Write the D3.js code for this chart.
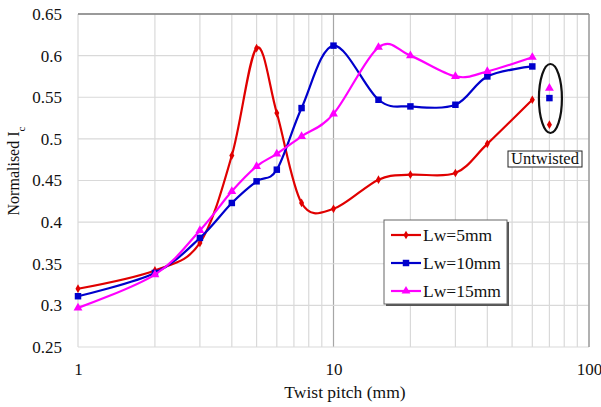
<!DOCTYPE html>
<html>
<head>
<meta charset="utf-8">
<script src="https://cdn.jsdelivr.net/npm/d3@7"></script>
<style>
  body { margin: 0; background: #fff; }
  svg { display: block; }
</style>
</head>
<body>
<svg id="chart" width="601" height="407"></svg>
<script>
// ---- data ----
const pitches = [1, 2, 3, 4, 5, 6, 7.5, 10, 15, 20, 30, 40, 60];
const lw5  = [0.320, 0.342, 0.375, 0.480, 0.609, 0.531, 0.423, 0.416, 0.451, 0.457, 0.459, 0.494, 0.547];
const lw10 = [0.311, 0.339, 0.381, 0.423, 0.449, 0.463, 0.537, 0.612, 0.547, 0.539, 0.541, 0.575, 0.587];
const lw15 = [0.297, 0.337, 0.390, 0.437, 0.467, 0.482, 0.503, 0.530, 0.610, 0.600, 0.575, 0.581, 0.598];
const untwistedX = 70;
const untwisted = [0.517, 0.549, 0.561]; // Lw=5, 10, 15
const seriesNames = ["Lw=5mm", "Lw=10mm", "Lw=15mm"];
const seriesColors = ["#e00000", "#0000cc", "#ff00ff"];
const yTicks = [0.25, 0.3, 0.35, 0.4, 0.45, 0.5, 0.55, 0.6, 0.65];
const yTickLabels = ["0.25", "0.3", "0.35", "0.4", "0.45", "0.5", "0.55", "0.6", "0.65"];
const xTicks = [1, 10, 100];

// ---- layout ----
const FONT = '"Liberation Serif", "Times New Roman", Times, serif';
const svg = d3.select("#chart").style("font-family", FONT);
const L = 78, R = 589, T = 14, B = 347;
const x = d3.scaleLog().domain([1, 100]).range([L, R]);
const y = d3.scaleLinear().domain([0.25, 0.65]).range([B, T]);

// gridlines
const minorX = [];
for (let d = 1; d < 100; d *= 10) for (let k = 1; k <= 9; k++) minorX.push(d * k);
minorX.push(100);
svg.append("g").selectAll("line").data(minorX).join("line")
  .attr("x1", d => x(d)).attr("x2", d => x(d)).attr("y1", T).attr("y2", B)
  .attr("stroke", d => (d === 10 ? "#a6a6a6" : "#d9d9d9")).attr("stroke-width", 1.2);
svg.append("g").selectAll("line").data(yTicks).join("line")
  .attr("x1", L).attr("x2", R).attr("y1", d => y(d)).attr("y2", d => y(d))
  .attr("stroke", "#d9d9d9").attr("stroke-width", 1.2);
// top and right frame
svg.append("line").attr("x1", L).attr("x2", R).attr("y1", T).attr("y2", T).attr("stroke", "#7f7f7f").attr("stroke-width", 1.5);
svg.append("line").attr("x1", R).attr("x2", R).attr("y1", T).attr("y2", B).attr("stroke", "#8c8c8c").attr("stroke-width", 1.2);

// axes labels
const yAxis = d3.axisLeft(y).tickValues(yTicks).tickFormat((d, i) => yTickLabels[i]).tickSize(0).tickPadding(16);
const gy = svg.append("g").attr("transform", `translate(${L},0)`).call(yAxis);
gy.select(".domain").remove();
gy.selectAll("text").style("font-family", FONT).style("font-size", "17px").attr("fill", "#111");

const xAxis = d3.axisBottom(x).tickValues(xTicks).tickFormat(d3.format("d")).tickSize(0).tickPadding(16);
const gx = svg.append("g").attr("transform", `translate(0,${B})`).call(xAxis);
gx.select(".domain").remove();
gx.selectAll("text").style("font-family", FONT).style("font-size", "17px").attr("fill", "#111");

svg.append("text").attr("x", 345).attr("y", 398).attr("text-anchor", "middle")
  .style("font-family", FONT).style("font-size", "17.5px").attr("fill", "#111").text("Twist pitch (mm)");
const yt = svg.append("text").attr("transform", `translate(19,171) rotate(-90)`)
  .attr("text-anchor", "middle").style("font-family", FONT).style("font-size", "16px").attr("fill", "#111");
yt.append("tspan").text("Normalised I");
yt.append("tspan").attr("baseline-shift", "sub").style("font-size", "11px").text("c");

// series
const allSeries = [lw5, lw10, lw15];
const line = d3.line().x(d => x(d[0])).y(d => y(d[1])).curve(d3.curveCatmullRom.alpha(0));
const symbols = [d3.symbolDiamond, d3.symbolSquare, d3.symbolTriangle];
const symSizes = [22, 42, 34];

allSeries.forEach((vals, i) => {
  const pts = pitches.map((p, j) => [p, vals[j]]);
  svg.append("path").datum(pts).attr("d", line).attr("fill", "none")
    .attr("stroke", seriesColors[i]).attr("stroke-width", 2.2);
  svg.append("g").selectAll("path").data(pts).join("path")
    .attr("transform", d => `translate(${x(d[0])},${y(d[1])})`)
    .attr("d", d3.symbol().type(symbols[i]).size(symSizes[i]))
    .attr("fill", seriesColors[i]);
});

// untwisted points
untwisted.forEach((v, i) => {
  svg.append("path").attr("transform", `translate(${x(untwistedX)},${y(v)})`)
    .attr("d", d3.symbol().type(symbols[i]).size(symSizes[i])).attr("fill", seriesColors[i]);
});
// ellipse around untwisted
svg.append("ellipse").attr("cx", x(untwistedX) + 1).attr("cy", y(0.5485))
  .attr("rx", 11.5).attr("ry", 34.5).attr("fill", "none").attr("stroke", "#111").attr("stroke-width", 2.2);
// Untwisted label
svg.append("rect").attr("x", 508).attr("y", 151).attr("width", 74).attr("height", 16)
  .attr("fill", "#fff").attr("stroke", "#222").attr("stroke-width", 1);
svg.append("text").attr("x", 545).attr("y", 164).attr("text-anchor", "middle")
  .style("font-family", FONT).style("font-size", "16.5px").attr("fill", "#111").text("Untwisted");

// legend
const lg = svg.append("g");
lg.append("rect").attr("x", 386).attr("y", 222).attr("width", 123).attr("height", 84).attr("fill", "#555");
lg.append("rect").attr("x", 384).attr("y", 220).attr("width", 123).attr("height", 84)
  .attr("fill", "#fff").attr("stroke", "#666").attr("stroke-width", 1);
seriesNames.forEach((name, i) => {
  const cy = 235 + i * 28;
  lg.append("line").attr("x1", 391).attr("x2", 421).attr("y1", cy).attr("y2", cy)
    .attr("stroke", seriesColors[i]).attr("stroke-width", 2.2);
  lg.append("path").attr("transform", `translate(406,${cy})`)
    .attr("d", d3.symbol().type(symbols[i]).size(symSizes[i])).attr("fill", seriesColors[i]);
  lg.append("text").attr("x", 423).attr("y", cy + 6)
    .style("font-family", FONT).style("font-size", "17.5px").attr("fill", "#111").text(name);
});
</script>
</body>
</html>
